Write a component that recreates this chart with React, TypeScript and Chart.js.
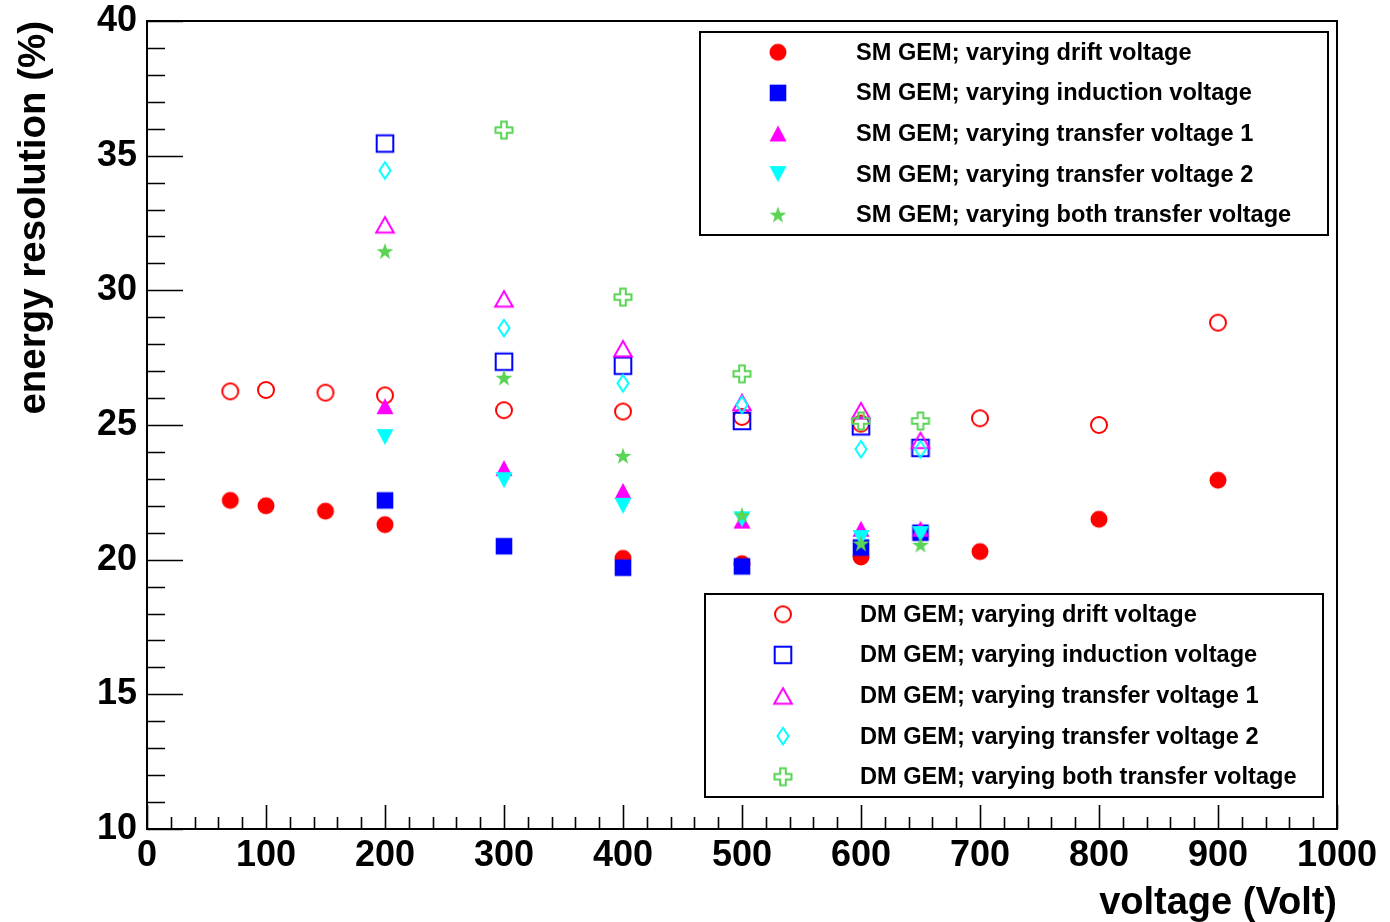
import React, { useEffect, useRef } from "react";
import { Chart, registerables } from "chart.js";

Chart.register(...registerables);

// Energy resolution (%) against the scanned voltage (V)
const smDriftVolt = [70, 100, 150, 200, 400, 500, 600, 700, 800, 900];
const smDriftRes = [22.2, 22.0, 21.8, 21.3, 20.05, 19.85, 20.1, 20.3, 21.5, 22.95];

const smInductionVolt = [200, 300, 400, 500, 600, 650];
const smInductionRes = [22.2, 20.5, 19.7, 19.75, 20.45, 21.0];

const smTransfer1Volt = [200, 300, 400, 500, 600, 650];
const smTransfer1Res = [25.7, 23.4, 22.55, 21.45, 21.15, 21.15];

const smTransfer2Volt = [200, 300, 400, 500, 600, 650];
const smTransfer2Res = [24.55, 22.95, 22.0, 21.5, 20.8, 20.95];

const smBothVolt = [200, 300, 400, 500, 600, 650];
const smBothRes = [31.45, 26.75, 23.85, 21.65, 20.6, 20.55];

const dmDriftVolt = [70, 100, 150, 200, 300, 400, 500, 600, 700, 800, 900];
const dmDriftRes = [26.25, 26.3, 26.2, 26.1, 25.55, 25.5, 25.3, 25.05, 25.25, 25.0, 28.8];

const dmInductionVolt = [200, 300, 400, 500, 600, 650];
const dmInductionRes = [35.45, 27.35, 27.2, 25.15, 24.95, 24.15];

const dmTransfer1Volt = [200, 300, 400, 500, 600, 650];
const dmTransfer1Res = [32.45, 29.7, 27.85, 25.85, 25.55, 24.45];

const dmTransfer2Volt = [200, 300, 400, 500, 600, 650];
const dmTransfer2Res = [34.45, 28.6, 26.55, 25.75, 24.1, 24.1];

const dmBothVolt = [300, 400, 500, 600, 650];
const dmBothRes = [35.95, 29.75, 26.9, 25.15, 25.15];

const smLabels = [
  "SM GEM; varying drift voltage",
  "SM GEM; varying induction voltage",
  "SM GEM; varying transfer voltage 1",
  "SM GEM; varying transfer voltage 2",
  "SM GEM; varying both transfer voltage",
];
const dmLabels = [
  "DM GEM; varying drift voltage",
  "DM GEM; varying induction voltage",
  "DM GEM; varying transfer voltage 1",
  "DM GEM; varying transfer voltage 2",
  "DM GEM; varying both transfer voltage",
];

const xTitle = "voltage (Volt)";
const yTitle = "energy resolution (%)";

const RED = "#ff0000";
const BLUE = "#0000ff";
const MAGENTA = "#ff00ff";
const CYAN = "#00ffff";
const GREEN = "#59d454";

const FONT = '"Liberation Sans", Arial, Helvetica, sans-serif';

type MarkerKind =
  | "circleFilled"
  | "squareFilled"
  | "triUpFilled"
  | "triDownFilled"
  | "starFilled"
  | "circleOpen"
  | "squareOpen"
  | "triUpOpen"
  | "diamondOpen"
  | "crossOpen";

// Builds a small bitmap marker, centred in its canvas, usable as a Chart.js pointStyle
function makeMarker(kind: MarkerKind, color: string): HTMLCanvasElement {
  const size = 26;
  const c = document.createElement("canvas");
  c.width = size;
  c.height = size;
  const ctx = c.getContext("2d") as CanvasRenderingContext2D;
  const m = size / 2;
  ctx.fillStyle = color;
  ctx.strokeStyle = color;
  ctx.lineWidth = 2;
  ctx.lineJoin = "miter";
  ctx.beginPath();
  switch (kind) {
    case "circleFilled":
      ctx.arc(m, m, 8.5, 0, Math.PI * 2);
      ctx.fill();
      break;
    case "circleOpen":
      ctx.arc(m, m, 8, 0, Math.PI * 2);
      ctx.stroke();
      break;
    case "squareFilled":
      ctx.rect(m - 8.3, m - 8.3, 16.6, 16.6);
      ctx.fill();
      break;
    case "squareOpen":
      ctx.rect(m - 8.3, m - 8.3, 16.6, 16.6);
      ctx.stroke();
      break;
    case "triUpFilled":
      ctx.moveTo(m, m - 8);
      ctx.lineTo(m + 8.5, m + 8);
      ctx.lineTo(m - 8.5, m + 8);
      ctx.closePath();
      ctx.fill();
      break;
    case "triDownFilled":
      ctx.moveTo(m, m + 8);
      ctx.lineTo(m + 8.5, m - 8);
      ctx.lineTo(m - 8.5, m - 8);
      ctx.closePath();
      ctx.fill();
      break;
    case "triUpOpen":
      ctx.moveTo(m, m - 7.3);
      ctx.lineTo(m + 8.8, m + 8.2);
      ctx.lineTo(m - 8.8, m + 8.2);
      ctx.closePath();
      ctx.stroke();
      break;
    case "diamondOpen":
      ctx.moveTo(m, m - 8.2);
      ctx.lineTo(m + 5.5, m);
      ctx.lineTo(m, m + 8.2);
      ctx.lineTo(m - 5.5, m);
      ctx.closePath();
      ctx.stroke();
      break;
    case "crossOpen": {
      const a = 8.5;
      const b = 2.8;
      const pts = [
        [-b, -a], [b, -a], [b, -b], [a, -b], [a, b], [b, b],
        [b, a], [-b, a], [-b, b], [-a, b], [-a, -b], [-b, -b],
      ];
      pts.forEach(([px, py], i) => {
        if (i === 0) ctx.moveTo(m + px, m + py);
        else ctx.lineTo(m + px, m + py);
      });
      ctx.closePath();
      ctx.stroke();
      break;
    }
    case "starFilled": {
      const R = 8.8;
      const r = 3.5;
      for (let i = 0; i < 10; i++) {
        const ang = -Math.PI / 2 + (i * Math.PI) / 5;
        const rad = i % 2 === 0 ? R : r;
        const px = m + rad * Math.cos(ang);
        const py = m + 0.6 + rad * Math.sin(ang);
        if (i === 0) ctx.moveTo(px, py);
        else ctx.lineTo(px, py);
      }
      ctx.closePath();
      ctx.fill();
      break;
    }
  }
  return c;
}

function toPoints(xs: number[], ys: number[]) {
  return xs.map((x, i) => ({ x, y: ys[i] }));
}

export default function App() {
  const canvasRef = useRef<HTMLCanvasElement | null>(null);

  useEffect(() => {
    document.body.style.margin = "0";
    const canvas = canvasRef.current;
    if (!canvas) return;

    const smMarkers = [
      makeMarker("circleFilled", RED),
      makeMarker("squareFilled", BLUE),
      makeMarker("triUpFilled", MAGENTA),
      makeMarker("triDownFilled", CYAN),
      makeMarker("starFilled", GREEN),
    ];
    const dmMarkers = [
      makeMarker("circleOpen", RED),
      makeMarker("squareOpen", BLUE),
      makeMarker("triUpOpen", MAGENTA),
      makeMarker("diamondOpen", CYAN),
      makeMarker("crossOpen", GREEN),
    ];

    const smSeries = [
      toPoints(smDriftVolt, smDriftRes),
      toPoints(smInductionVolt, smInductionRes),
      toPoints(smTransfer1Volt, smTransfer1Res),
      toPoints(smTransfer2Volt, smTransfer2Res),
      toPoints(smBothVolt, smBothRes),
    ];
    const dmSeries = [
      toPoints(dmDriftVolt, dmDriftRes),
      toPoints(dmInductionVolt, dmInductionRes),
      toPoints(dmTransfer1Volt, dmTransfer1Res),
      toPoints(dmTransfer2Volt, dmTransfer2Res),
      toPoints(dmBothVolt, dmBothRes),
    ];

    // lower "order" is painted later, so SM markers sit above DM markers
    const datasets: any[] = [];
    dmSeries.forEach((data, i) => {
      datasets.push({
        label: dmLabels[i],
        data,
        pointStyle: dmMarkers[i],
        pointRadius: 9,
        showLine: false,
        order: 9 - i,
      });
    });
    smSeries.forEach((data, i) => {
      datasets.push({
        label: smLabels[i],
        data,
        pointStyle: smMarkers[i],
        pointRadius: 9,
        showLine: false,
        order: 4 - i,
      });
    });

    // Frame plus inward-pointing tick marks
    const framePlugin = {
      id: "frameTicks",
      beforeDatasetsDraw(chart: any) {
        const { ctx, chartArea } = chart;
        const { left, right, top, bottom } = chartArea;
        const xs = chart.scales.x;
        const ys = chart.scales.y;
        ctx.save();
        ctx.strokeStyle = "#000";
        ctx.lineWidth = 1.6;
        ctx.beginPath();
        xs.ticks.forEach((t: any) => {
          const v = Math.round(t.value);
          const px = Math.round(xs.getPixelForValue(v)) + 0.5;
          const len = v % 100 === 0 ? 24 : 12;
          ctx.moveTo(px, bottom);
          ctx.lineTo(px, bottom - len);
        });
        ys.ticks.forEach((t: any) => {
          const v = Math.round(t.value);
          const py = Math.round(ys.getPixelForValue(v)) + 0.5;
          const len = v % 5 === 0 ? 36 : 18;
          ctx.moveTo(left, py);
          ctx.lineTo(left + len, py);
        });
        ctx.stroke();
        ctx.lineWidth = 2;
        ctx.strokeRect(left, top, right - left, bottom - top);
        ctx.restore();
      },
    };

    // Two boxed legends drawn over the plotting area
    const legendPlugin = {
      id: "boxLegends",
      afterDatasetsDraw(chart: any) {
        const { ctx } = chart;
        const boxes = [
          { x0: 700, y0: 32, x1: 1328, y1: 235, mx: 778, tx: 856, labels: smLabels, markers: smMarkers },
          { x0: 705, y0: 594, x1: 1323, y1: 797, mx: 783, tx: 860, labels: dmLabels, markers: dmMarkers },
        ];
        ctx.save();
        boxes.forEach((b) => {
          ctx.fillStyle = "#fff";
          ctx.fillRect(b.x0, b.y0, b.x1 - b.x0, b.y1 - b.y0);
          ctx.strokeStyle = "#000";
          ctx.lineWidth = 2;
          ctx.strokeRect(b.x0, b.y0, b.x1 - b.x0, b.y1 - b.y0);
          const rowH = (b.y1 - b.y0) / b.labels.length;
          b.labels.forEach((label, i) => {
            const cy = b.y0 + rowH * (i + 0.5);
            const mk = b.markers[i];
            ctx.drawImage(mk, b.mx - mk.width / 2, cy - mk.height / 2);
            ctx.fillStyle = "#000";
            ctx.font = `bold 23.6px ${FONT}`;
            ctx.textAlign = "left";
            ctx.textBaseline = "middle";
            ctx.fillText(label, b.tx, cy + 1);
          });
        });
        ctx.restore();
      },
    };

    const xTickFont = { family: FONT, weight: "bold" as const, size: 36, lineHeight: 1 };
    const yTickFont = { family: FONT, weight: "bold" as const, size: 36, lineHeight: 0.6 };

    const chart = new Chart(canvas, {
      type: "scatter",
      data: { datasets },
      options: {
        animation: false,
        responsive: false,
        devicePixelRatio: 1,
        events: [],
        layout: { padding: { top: 21, right: 53, left: 0, bottom: 0 } },
        plugins: {
          legend: { display: false },
          tooltip: { enabled: false },
        },
        scales: {
          x: {
            type: "linear",
            position: "bottom",
            min: 0,
            max: 1000,
            grid: { display: false },
            border: { display: false },
            ticks: {
              stepSize: 20,
              autoSkip: false,
              maxRotation: 0,
              padding: 1,
              color: "#000",
              font: xTickFont,
              callback: (v: any) => (Math.round(Number(v)) % 100 === 0 ? String(Math.round(Number(v))) : ""),
            },
            title: {
              display: true,
              text: xTitle,
              align: "end",
              color: "#000",
              font: { family: FONT, weight: "bold", size: 38 },
              padding: { top: 0, bottom: -4 },
            },
            afterFit: (s: any) => {
              s.height = 93;
            },
          },
          y: {
            type: "linear",
            position: "left",
            min: 10,
            max: 40,
            grid: { display: false },
            border: { display: false },
            ticks: {
              stepSize: 1,
              autoSkip: false,
              padding: 2,
              color: "#000",
              font: yTickFont,
              callback: (v: any) => (Math.round(Number(v)) % 5 === 0 ? String(Math.round(Number(v))) : ""),
            },
            title: {
              display: true,
              text: yTitle,
              align: "end",
              color: "#000",
              font: { family: FONT, weight: "bold", size: 38.5 },
              padding: { top: 11, bottom: 0 },
            },
            afterFit: (s: any) => {
              s.width = 147;
            },
          },
        },
      },
      plugins: [framePlugin, legendPlugin],
    });

    return () => {
      chart.destroy();
    };
  }, []);

  return (
    <div style={{ position: "absolute", left: 0, top: 0, width: 1390, height: 922, background: "#fff" }}>
      <canvas ref={canvasRef} width={1390} height={922} style={{ width: 1390, height: 922, display: "block" }} />
    </div>
  );
}
